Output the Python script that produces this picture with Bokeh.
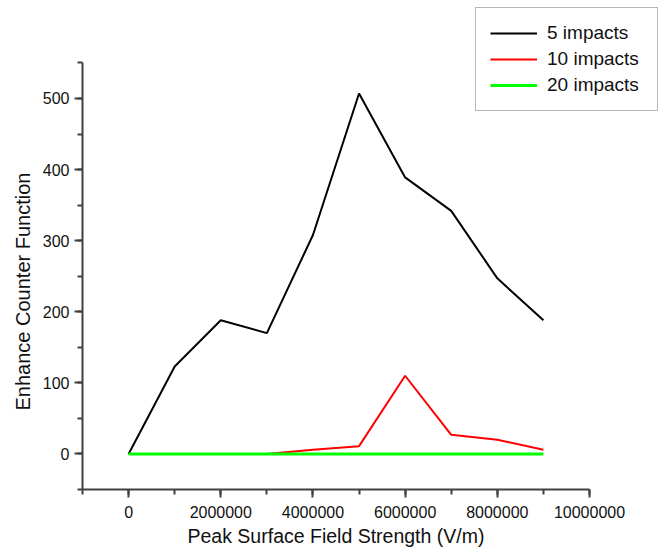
from bokeh.plotting import figure
from bokeh.models import Range1d, SingleIntervalTicker, NumeralTickFormatter, Legend, LegendItem, Title
from bokeh.embed import file_html
from bokeh.resources import INLINE

# Data
field = [0, 1000000, 2000000, 3000000, 4000000, 5000000, 6000000, 7000000, 8000000, 9000000]
impacts_5 = [0, 123, 188, 170, 308, 507, 389, 342, 247, 188]
impacts_10 = [0, 0, 0, 0, 6, 11, 110, 27, 20, 6]
impacts_20 = [0, 0, 0, 0, 0, 0, 0, 0, 0, 0]
series_labels = ["5 impacts", "10 impacts", "20 impacts"]
series_colors = ["#000000", "#ff0000", "#00ff00"]
x_title = "Peak Surface Field Strength (V/m)"
y_title = "Enhance Counter Function"

FONT = "Liberation Sans"

p = figure(width=659, height=548, output_backend="svg", toolbar_location=None,
           x_range=Range1d(-1000000, 11497000), y_range=Range1d(-50, 628),
           min_border_left=82, min_border_right=1, min_border_top=7, min_border_bottom=57)
p.outline_line_color = None
p.xgrid.grid_line_color = None
p.ygrid.grid_line_color = None
p.background_fill_color = "white"
p.border_fill_color = "white"

r5 = p.line(field, impacts_5, line_color=series_colors[0], line_width=2)
r10 = p.line(field, impacts_10, line_color=series_colors[1], line_width=2)
r20 = p.line(field, impacts_20, line_color=series_colors[2], line_width=3)

for ax in (p.xaxis[0], p.yaxis[0]):
    ax.axis_line_color = "#404040"
    ax.axis_line_width = 2
    ax.major_tick_line_color = "#404040"
    ax.minor_tick_line_color = "#404040"
    ax.major_tick_line_width = 2
    ax.minor_tick_line_width = 2
    ax.major_tick_in = 0
    ax.major_tick_out = 8
    ax.minor_tick_in = 0
    ax.minor_tick_out = 5
    ax.major_label_text_font = FONT
    ax.major_label_text_font_size = "16px"
    ax.major_label_text_color = "#111111"

p.xaxis[0].ticker = SingleIntervalTicker(interval=2000000, num_minor_ticks=2)
p.xaxis[0].formatter = NumeralTickFormatter(format="0")
p.xaxis[0].bounds = (-1000000, 10000000)
p.xaxis[0].major_label_standoff = 8

p.yaxis[0].ticker = SingleIntervalTicker(interval=100, num_minor_ticks=2)
p.yaxis[0].bounds = (-50, 550)
p.yaxis[0].major_label_standoff = 5

xt = Title(text=x_title, align="left", offset=105, standoff=4,
           text_font=FONT, text_font_size="19.5px", text_font_style="normal", text_color="#111111")
p.add_layout(xt, "below")
yt = Title(text=y_title, align="left", offset=79, standoff=12,
           text_font=FONT, text_font_size="20px", text_font_style="normal", text_color="#111111")
p.add_layout(yt, "left")

legend = Legend(items=[LegendItem(label=series_labels[0], renderers=[r5]),
                       LegendItem(label=series_labels[1], renderers=[r10]),
                       LegendItem(label=series_labels[2], renderers=[r20])],
                location="top_right")
legend.margin = 0
legend.padding = 14
legend.spacing = 4
legend.glyph_width = 47
legend.glyph_height = 20
legend.label_height = 20
legend.label_width = 96
legend.label_standoff = 10
legend.label_text_font = FONT
legend.label_text_font_size = "19px"
legend.label_text_color = "#111111"
legend.border_line_color = "#707070"
legend.border_line_width = 1.5
legend.background_fill_color = "white"
legend.background_fill_alpha = 1
p.add_layout(legend)

open("out.html", "w").write(file_html(p, INLINE))
